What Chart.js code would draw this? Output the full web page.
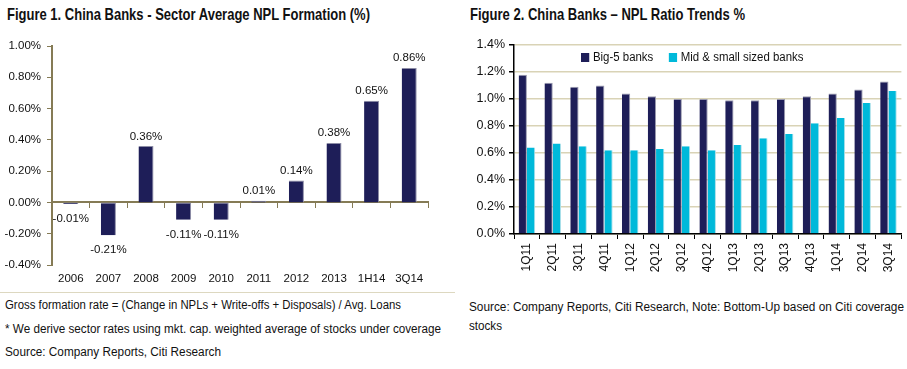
<!DOCTYPE html>
<html lang="en">
<head>
<meta charset="utf-8" />
<title>China Banks NPL</title>
<script src="https://cdn.jsdelivr.net/npm/chart.js@4.4.1/dist/chart.umd.min.js"></script>
<style>
	body { margin: 0; background: #fff; width: 907px; height: 369px; position: relative; overflow: hidden;
		font-family: 'Liberation Sans', Arial, sans-serif; color: #111; }
	.fit { position: absolute; white-space: nowrap; transform-origin: 0 0; }
	.title { font-weight: bold; font-size: 17px; }
	.note { font-size: 12.5px; }
	.box { position: absolute; }
	.sep { position: absolute; left: 0; top: 292px; width: 455px; height: 1px; background: #ddd8c0; }
	#legend2 { position: absolute; left: 581px; top: 50px; font-size: 12.5px; white-space: nowrap; transform-origin: 0 0; }
	#legend2 span.sw { display: inline-block; width: 9px; height: 9px; margin-right: 4px; vertical-align: -1px; }
	#legend2 span.item { margin-right: 17px; }
</style>
</head>
<body>
	<div class="fit title" data-w="363" style="left:7px;top:5px">Figure 1. China Banks - Sector Average NPL Formation (%)</div>
	<div class="fit title" data-w="275" style="left:470px;top:5px">Figure 2. China Banks &#8211; NPL Ratio Trends %</div>

	<div class="box" style="left:0;top:30px;width:460px;height:260px"><canvas id="c1"></canvas></div>
	<div class="box" style="left:460px;top:30px;width:447px;height:260px"><canvas id="c2"></canvas></div>
	<div id="legend2"></div>

	<div class="sep"></div>
	<div class="fit note" data-w="396" style="left:5px;top:298px">Gross formation rate = (Change in NPLs + Write-offs + Disposals) / Avg. Loans</div>
	<div class="fit note" data-w="436" style="left:5px;top:322px">* We derive sector rates using mkt. cap. weighted average of stocks under coverage</div>
	<div class="fit note" data-w="216" style="left:5px;top:345px">Source: Company Reports, Citi Research</div>
	<div class="fit note" data-w="435" style="left:469px;top:300px">Source: Company Reports, Citi Research, Note: Bottom-Up based on Citi coverage</div>
	<div class="fit note" data-w="33" style="left:469px;top:319px">stocks</div>

	<script>
		// figure 1 data
		var years = ["2006", "2007", "2008", "2009", "2010", "2011", "2012", "2013", "1H14", "3Q14"];
		var formation = [-0.01, -0.21, 0.36, -0.11, -0.11, 0.01, 0.14, 0.38, 0.65, 0.86];

		// figure 2 data
		var quarters = ["1Q11", "2Q11", "3Q11", "4Q11", "1Q12", "2Q12", "3Q12", "4Q12",
			"1Q13", "2Q13", "3Q13", "4Q13", "1Q14", "2Q14", "3Q14"];
		var big5 = [1.18, 1.12, 1.09, 1.10, 1.04, 1.02, 1.00, 1.00, 0.99, 0.99, 1.00, 1.02, 1.04, 1.07, 1.13];
		var midSmall = [0.64, 0.67, 0.65, 0.62, 0.62, 0.63, 0.65, 0.62, 0.66, 0.71, 0.74, 0.82, 0.86, 0.97, 1.06];

		var arial = "'Liberation Sans', Arial, sans-serif";
		var navy = "#1e1e58";
		var cyan = "#00b9da";
		var olive = "#857b55";

		// squeeze the arial text to the narrow look of the original
		document.querySelectorAll(".fit").forEach(el => {
			var w = el.getBoundingClientRect().width;
			el.style.transform = "scaleX(" + (el.dataset.w / w) + ")";
		});

		Chart.defaults.animation = false;
		Chart.defaults.color = "#111";

		var pct = (v, d) => (Math.abs(v) < 1e-9 ? 0 : v).toFixed(d) + "%";

		// value labels above / below bars
		var valueLabels = {
			id: "valueLabels",
			afterDatasetsDraw(chart) {
				var ctx = chart.ctx;
				var meta = chart.getDatasetMeta(0);
				ctx.save();
				ctx.font = "11.5px " + arial;
				ctx.fillStyle = "#111";
				ctx.textAlign = "center";
				meta.data.forEach((bar, i) => {
					var v = formation[i];
					if (v >= 0) {
						ctx.textBaseline = "bottom";
						ctx.fillText(pct(v, 2), bar.x, bar.y - 4);
					} else {
						ctx.textBaseline = "top";
						ctx.fillText(pct(v, 2), bar.x, bar.y + 9);
					}
				});
				ctx.restore();
			}
		};

		new Chart(document.getElementById("c1"), {
			type: "bar",
			data: {
				labels: years,
				datasets: [{
					data: formation,
					backgroundColor: navy,
					borderColor: "#8d8da6",
					borderWidth: { right: 1, top: 1 },
					borderSkipped: false,
					categoryPercentage: 0.4,
					barPercentage: 1
				}]
			},
			options: {
				responsive: true,
				maintainAspectRatio: false,
				layout: { padding: { top: 16, right: 32, left: 0, bottom: 0 } },
				plugins: { legend: { display: false }, tooltip: { enabled: false } },
				scales: {
					x: {
						grid: { display: false, drawTicks: false, tickLength: 0 },
						border: { display: false },
						ticks: { font: { family: arial, size: 11.5 }, padding: 7, maxRotation: 0 },
						afterFit: (s) => { s.height = 25; }
					},
					x0: {
						position: { y: 0 },
						grid: { drawOnChartArea: false, color: olive, tickLength: 5, offset: true },
						border: { color: olive, width: 2 },
						ticks: { display: false }
					},
					y: {
						min: -0.4,
						max: 1.0,
						grid: { drawOnChartArea: false, color: olive, tickLength: 5 },
						border: { color: olive, width: 2 },
						ticks: {
							stepSize: 0.2,
							padding: 6,
							font: { family: arial, size: 11.5 },
							callback: (v) => pct(v, 2)
						},
						afterFit: (s) => { s.width = 52; }
					}
				}
			},
			plugins: [valueLabels]
		});

		var chart2 = new Chart(document.getElementById("c2"), {
			type: "bar",
			data: {
				labels: quarters,
				datasets: [{
					label: "Big-5 banks",
					data: big5,
					backgroundColor: navy,
					borderColor: "#9a9aae",
					borderWidth: { right: 1, top: 1 },
					borderSkipped: false,
					categoryPercentage: 0.64,
					barPercentage: 1
				}, {
					label: "Mid & small sized banks",
					data: midSmall,
					backgroundColor: cyan,
					borderColor: "#a8dfe9",
					borderWidth: { right: 1 },
					borderSkipped: false,
					categoryPercentage: 0.64,
					barPercentage: 1
				}]
			},
			options: {
				responsive: true,
				maintainAspectRatio: false,
				layout: { padding: { top: 15, right: 4, left: 0, bottom: 0 } },
				plugins: { legend: { display: false }, tooltip: { enabled: false } },
				scales: {
					x: {
						grid: { drawOnChartArea: false, color: "#000", tickLength: 5, offset: true },
						border: { color: "#000", width: 1.5 },
						ticks: { font: { family: arial, size: 12 }, minRotation: 90, maxRotation: 90, padding: 4 },
						afterFit: (s) => { s.height = 56; }
					},
					y: {
						min: 0,
						max: 1.4,
						grid: { color: "#d9d3b6", lineWidth: 1.5, tickColor: "#000", tickLength: 5 },
						border: { color: "#000", width: 1.5 },
						ticks: {
							stepSize: 0.2,
							padding: 4,
							font: { family: arial, size: 12.5 },
							callback: (v) => pct(v, 1)
						},
						afterFit: (s) => { s.width = 54; }
					}
				}
			}
		});

		// html legend for figure 2, inside the plot area
		var leg = document.getElementById("legend2");
		leg.innerHTML = chart2.data.datasets.map(ds =>
			'<span class="item"><span class="sw" style="background:' + ds.backgroundColor + '"></span>' + ds.label + '</span>'
		).join("");
		leg.style.transform = "scaleX(" + (238 / leg.getBoundingClientRect().width) + ")";
	</script>
</body>
</html>
